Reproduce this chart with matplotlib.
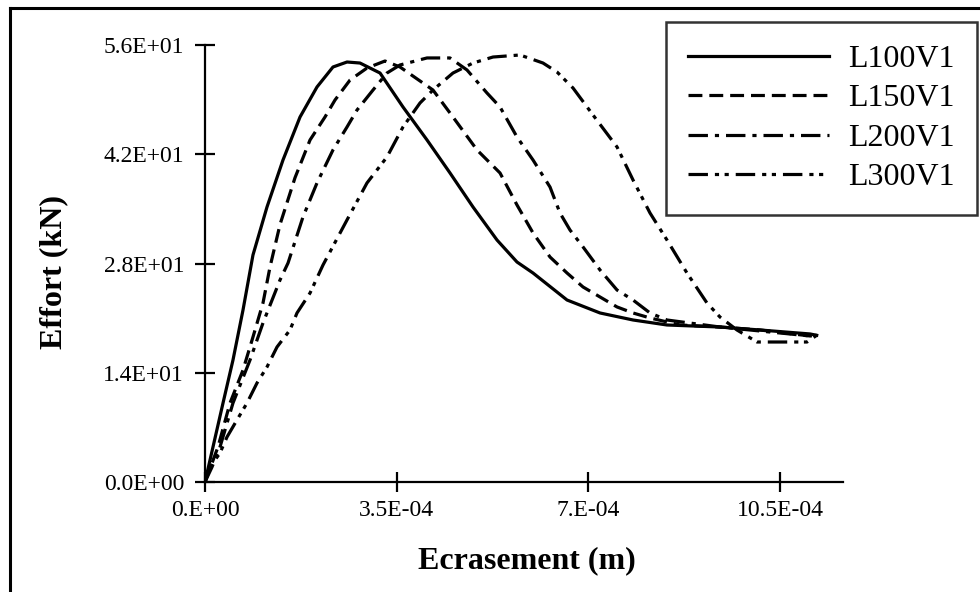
import numpy as np
import matplotlib
matplotlib.use("Agg")
import matplotlib.pyplot as plt
from matplotlib.lines import Line2D

plt.rcParams['font.family'] = ['Liberation Serif', 'DejaVu Serif']
plt.rcParams['lines.scale_dashes'] = False

# Ecrasement (m) / Effort (kN)
x_l100 = [0, 1.46e-5, 3.29e-5, 5.11e-5, 6.94e-5, 8.76e-5, 1.132e-4, 1.424e-4, 1.735e-4, 2.045e-4,
          2.337e-4, 2.593e-4, 2.830e-4, 3.196e-4, 3.615e-4, 4.054e-4, 4.474e-4, 4.894e-4, 5.332e-4,
          5.697e-4, 5.990e-4, 6.611e-4, 7.213e-4, 7.816e-4, 8.436e-4, 9.404e-4, 1.0135e-3, 1.105e-3,
          1.117e-3]
y_l100 = [0, 4.49, 10.12, 15.63, 22.04, 29.09, 35.24, 41.26, 46.77, 50.62,
          53.18, 53.82, 53.69, 52.41, 48.06, 43.83, 39.60, 35.24, 31.01,
          28.19, 26.78, 23.32, 21.66, 20.76, 20.12, 19.86, 19.48, 18.97,
          18.8]

x_l150 = [0, 2.37e-5, 4.57e-5, 6.94e-5, 8.76e-5, 1.059e-4, 1.187e-4, 1.370e-4, 1.644e-4, 1.918e-4,
          2.191e-4, 2.374e-4, 2.648e-4, 2.958e-4, 3.287e-4, 3.561e-4, 4.163e-4, 4.528e-4, 4.967e-4,
          5.387e-4, 5.697e-4, 5.990e-4, 6.300e-4, 6.611e-4, 6.903e-4, 7.213e-4, 7.524e-4, 7.816e-4,
          8.126e-4, 8.674e-4, 9.404e-4, 1.0135e-3, 1.105e-3, 1.117e-3]
y_l150 = [0, 4.49, 10.12, 14.35, 18.58, 22.94, 27.55, 33.0, 39.0, 43.83,
          46.77, 48.95, 51.51, 53.05, 53.95, 53.18, 50.23, 46.77, 42.55,
          39.60, 35.50, 31.91, 28.83, 26.78, 24.99, 23.71, 22.43, 21.66,
          21.02, 20.12, 19.86, 19.48, 18.71, 18.8]

x_l200 = [0, 1.28e-5, 2.74e-5, 5.11e-5, 8.22e-5, 1.059e-4, 1.370e-4, 1.516e-4, 1.789e-4, 2.045e-4,
          2.337e-4, 2.593e-4, 2.776e-4, 3.068e-4, 3.323e-4, 3.561e-4, 4.054e-4, 4.474e-4, 4.784e-4,
          5.149e-4, 5.387e-4, 5.697e-4, 5.990e-4, 6.300e-4, 6.482e-4, 6.665e-4, 6.903e-4, 7.213e-4,
          7.524e-4, 7.816e-4, 8.126e-4, 8.436e-4, 9.404e-4, 1.0135e-3, 1.105e-3, 1.117e-3]
y_l200 = [0, 1.92, 4.49, 10.12, 15.63, 20.38, 25.89, 28.06, 33.96, 38.32,
          42.55, 45.49, 47.67, 50.23, 52.41, 53.44, 54.34, 54.34, 52.80,
          49.85, 48.06, 44.21, 41.26, 37.80, 34.47, 32.29, 30.12, 27.17,
          24.60, 23.32, 21.66, 20.76, 19.86, 19.35, 18.71, 18.8]

x_l300 = [0, 9.1e-6, 2.74e-5, 4.02e-5, 5.84e-5, 7.67e-5, 9.50e-5, 1.132e-4, 1.315e-4, 1.552e-4,
          1.680e-4, 1.918e-4, 2.155e-4, 2.593e-4, 2.958e-4, 3.323e-4, 3.615e-4, 3.926e-4, 4.163e-4,
          4.528e-4, 4.894e-4, 5.259e-4, 5.752e-4, 6.172e-4, 6.428e-4, 6.720e-4, 7.085e-4, 7.524e-4,
          7.816e-4, 8.126e-4, 8.436e-4, 8.801e-4, 9.166e-4, 9.404e-4, 9.714e-4, 1.0080e-3, 1.0993e-3,
          1.117e-3]
y_l300 = [0, 1.92, 3.72, 5.77, 7.95, 10.12, 12.69, 14.74, 17.30, 19.48,
          21.66, 24.22, 27.81, 33.58, 38.32, 41.65, 45.49, 48.57, 50.23,
          52.41, 53.69, 54.46, 54.72, 53.69, 52.54, 50.49, 47.03, 42.93,
          38.70, 34.47, 31.01, 26.78, 22.94, 21.14, 19.48, 17.94, 17.94,
          18.8]

series = ['L100V1', 'L150V1', 'L200V1', 'L300V1']
x_ticks = [0, 3.5e-4, 7e-4, 10.5e-4]
x_tick_labels = ['0.E+00', '3.5E-04', '7.E-04', '10.5E-04']
y_ticks = [0, 14, 28, 42, 56]
y_tick_labels = ['0.0E+00', '1.4E+01', '2.8E+01', '4.2E+01', '5.6E+01']

fig = plt.figure(figsize=(9.8, 5.92), dpi=100)
ax = fig.add_axes([205/980, 1 - 482/592, 638/980, 437/592])

styles = ['-', (0, (10, 5)), (0, (14, 5, 3, 5)), (0, (14, 5, 3, 4, 3, 5))]
data = [(x_l100, y_l100), (x_l150, y_l150), (x_l200, y_l200), (x_l300, y_l300)]
for (xs, ys), ls, name in zip(data, styles, series):
    ax.plot(xs, ys, color='black', lw=2.3, linestyle=ls, label=name)

ax.set_xlim(0, 1.165e-3)
ax.set_ylim(0, 56)
ax.set_xticks(x_ticks)
ax.set_xticklabels(x_tick_labels)
ax.set_yticks(y_ticks)
ax.set_yticklabels(y_tick_labels)
ax.tick_params(direction='inout', length=14, width=1.6, labelsize=17, color='black')
ax.tick_params(axis='y', pad=8)
ax.tick_params(axis='x', pad=6)
for s in ['top', 'right']:
    ax.spines[s].set_visible(False)
for s in ['left', 'bottom']:
    ax.spines[s].set_linewidth(1.6)
ax.set_facecolor('none')

fig.text(527/980, 1 - 568/592, 'Ecrasement (m)', ha='center', va='baseline',
         fontsize=23, fontweight='bold')
fig.text(54/980, 1 - 272/592, 'Effort (kN)', ha='center', va='center',
         rotation=90, fontsize=23, fontweight='bold')

leg = ax.legend(loc='upper right', bbox_to_anchor=(977/980, 1 - 22/592),
                bbox_transform=fig.transFigure, borderaxespad=0, frameon=True,
                fancybox=False, fontsize=23, handlelength=4.4, handletextpad=0.6,
                labelspacing=0.32, borderpad=0.7)
leg.get_frame().set_edgecolor('black')
leg.get_frame().set_linewidth(1.8)

# outer chart border (only left and top are visible in the scan)
fig.add_artist(Line2D([10/980, 10/980], [0, 1 - 8/592], color='black', lw=2.2))
fig.add_artist(Line2D([10/980, 1], [1 - 8/592, 1 - 8/592], color='black', lw=2.2))

fig.savefig('out.png', dpi=100)
